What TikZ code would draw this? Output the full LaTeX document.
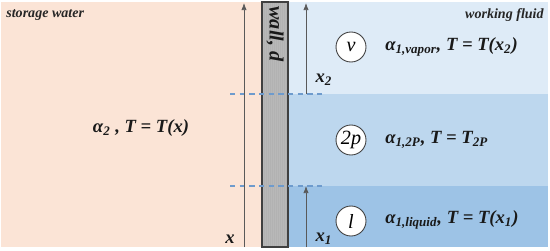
\documentclass[tikz,border=0pt]{standalone}
\usepackage{fontspec}
\setmainfont{Liberation Serif}
\usetikzlibrary{arrows.meta}

\definecolor{waterbg}{RGB}{251,228,214}
\definecolor{vaporbg}{RGB}{222,235,247}
\definecolor{twophbg}{RGB}{189,215,238}
\definecolor{liquidbg}{RGB}{157,195,230}
\definecolor{wallgray}{RGB}{184,184,184}
\definecolor{levelblue}{RGB}{110,155,205}

\tikzset{
  lbl/.style={font=\fontsize{10.6}{12}\selectfont\bfseries\itshape, text=black!90, inner sep=0pt},
  tag/.style={font=\fontsize{8}{9}\selectfont\bfseries\itshape, text=black!85, inner sep=0pt},
  phase/.style={circle, draw=black!75, fill=white, line width=0.5pt, minimum size=0.6cm, inner sep=0pt,
    font=\fontsize{11.5}{12}\selectfont\itshape},
  axis/.style={draw=black!65, line width=0.4pt, -{Latex[length=4pt,width=3pt]}},
  level/.style={draw=levelblue, line width=0.6pt, dash pattern=on 3pt off 2.5pt}
}

\begin{document}
\begin{tikzpicture}[x=0.02cm,y=-0.02cm]
\useasboundingbox (0,0) rectangle (550,250);

% ===== Vùng nền =====
\fill[waterbg] (1,2) rectangle (262,247);
\fill[vaporbg] (288,2) rectangle (548,94);
\fill[twophbg] (288,94) rectangle (548,186);
\fill[liquidbg] (288,186) rectangle (548,247);

% ===== Tường =====
\fill[wallgray] (262,2) rectangle (288,247);
\foreach \x in {264,266,...,286} {
    \draw[black!30, line width=0.15pt] (\x,2) -- (\x,247);
}
\draw[black!75, line width=0.6pt] (262,2) rectangle (288,247);
\node[lbl, font=\fontsize{11.5}{12}\selectfont\bfseries\itshape, rotate=-90] (wall) at (275,34) {wall, d};

% ===== Mức chia pha =====
\draw[level] (230,94) -- (323,94);
\draw[level] (230,186) -- (323,186);

% ===== Trục x =====
\coordinate (xbot) at (244,247);
\coordinate (xtop) at (244,3);
\coordinate (xonebot) at (306,247);
\coordinate (xonetop) at (306,186);
\coordinate (xtwobot) at (306,94);
\coordinate (xtwotop) at (306,3);
\draw[axis] (xbot) -- (xtop);
\draw[axis] (xonebot) -- (xonetop);
\draw[axis] (xtwobot) -- (xtwotop);
\node[lbl] (xlab) at (230,239) {x};
\node[lbl] (xone) at (324,239) {x\textsubscript{1}};
\node[lbl] (xtwo) at (324,80) {x\textsubscript{2}};

% ===== Nhãn =====
\node[tag, anchor=west] (storage) at (6,15) {storage water};
\node[tag, anchor=east] (fluid) at (544,15) {working fluid};
\node[lbl] (water) at (141,128) {α\textsubscript{2} , T = T(x)};

\node[phase] (v) at (351,47) {v};
\node[phase] (tp) at (351,140) {2p};
\node[phase] (l) at (351,221) {l};

\node[lbl, anchor=west] (vapor) at (385,47) {α\textsubscript{1,vapor}, T = T(x\textsubscript{2})};
\node[lbl, anchor=west] (twoph) at (385,140) {α\textsubscript{1,2P}, T = T\textsubscript{2P}};
\node[lbl, anchor=west] (liquid) at (385,220) {α\textsubscript{1,liquid}, T = T(x\textsubscript{1})};

\end{tikzpicture}
\end{document}
